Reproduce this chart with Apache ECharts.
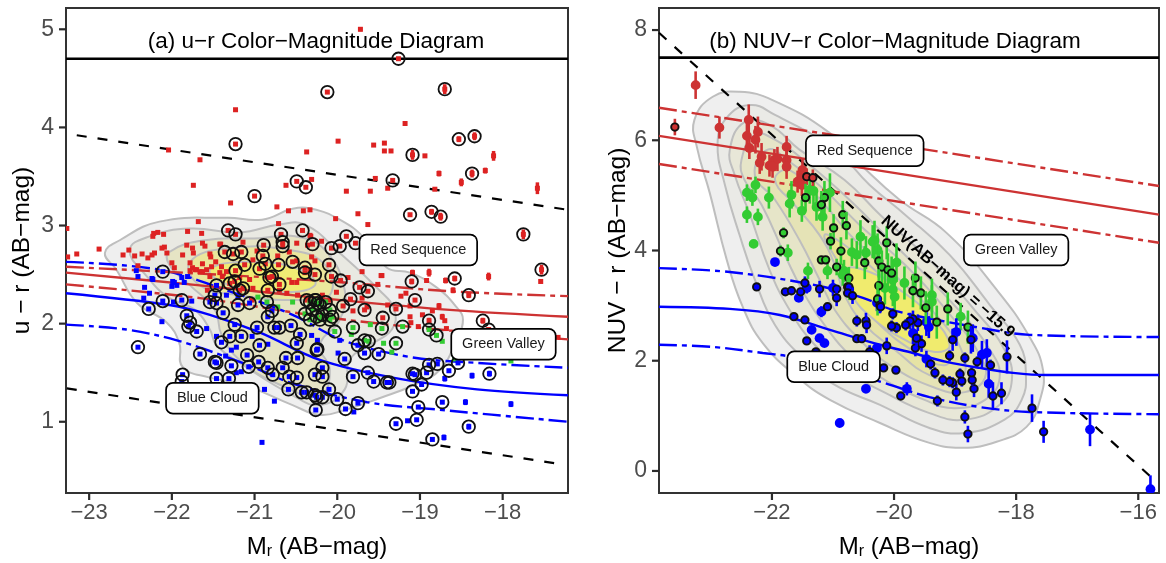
<!DOCTYPE html>
<html><head><meta charset="utf-8">
<style>html,body{margin:0;padding:0;background:#fff}#c{width:1166px;height:563px}</style>
<script src="https://cdn.jsdelivr.net/npm/echarts@6/dist/echarts.min.js"></script>
</head><body><div id="c"></div>
<script>
const aXTicks=[-23,-22,-21,-20,-19,-18], aYTicks=[1,2,3,4,5];
const bXTicks=[-22,-20,-18,-16], bYTicks=[0,2,4,6,8];

// Panel (a): [Mr, u-r, error]
const aRedPlain=[[-21.23,4.18],[-22.04,3.77],[-21.66,3.67],[-20.37,3.75],[-20.31,3.47],[-20.62,3.41],[-21.74,3.41],[-21.29,3.23],[-20.73,3.19],[-20.59,3.15],[-20.41,3.15],[-20.33,3.16],[-20.71,3.02],[-21.68,3.04],[-21.81,2.94],[-21.64,2.92],[-22.10,2.91],[-22.17,2.93],[-22.22,2.92],[-22.23,2.89],[-21.14,2.83],[-21.42,2.81],[-21.63,2.82],[-21.82,2.80],[-22.09,2.78],[-20.49,2.82],[-20.32,2.89],[-20.36,2.80],[-21.75,2.77],[-21.60,2.79],[-22.12,2.77],[-22.88,2.76],[-22.52,2.75],[-23.27,2.97],[-23.26,2.68],[-23.15,2.71],[-22.59,2.70],[-22.45,2.69],[-22.36,2.71],[-22.29,2.67],[-22.24,2.70],[-22.21,2.72],[-22.06,2.72],[-21.74,2.72],[-21.87,2.70],[-21.54,2.71],[-22.0,2.62],[-21.97,2.57],[-21.78,2.62],[-21.63,2.61],[-21.47,2.63],[-21.78,2.54],[-21.70,2.55],[-21.66,2.53],[-21.58,2.55],[-22.41,2.59],[-21.54,2.48],[-21.42,2.52],[-21.57,2.34],[-21.40,2.58],[-21.41,2.81],[-20.97,2.74],[-20.72,2.69],[-20.58,2.73],[-21.53,2.68],[-21.52,2.58],[-21.75,2.57],[-21.72,2.55],[-21.63,2.53],[-21.34,2.53],[-21.39,2.48],[-21.02,2.65],[-20.49,2.64],[-21.18,2.47],[-21.06,2.45],[-21.02,2.36],[-20.61,2.31],[-20.49,2.42],[-20.55,2.42],[-20.48,2.29],[-20.70,2.34],[-21.03,2.24],[-20.19,2.84],[-20.33,2.90],[-20.31,2.68],[-20.27,2.64],[-20.33,2.55],[-19.87,2.47],[-19.70,2.53],[-19.46,2.49],[-19.51,2.40],[-19.09,2.52,0.03],[-19.17,2.31],[-19.23,2.28],[-20.01,2.32],[-20.18,2.29],[-19.70,2.26],[-19.12,2.18],[-19.81,2.13],[-19.64,2.17],[-19.12,2.07],[-20.09,2.24],[-19.72,5.0,0.02],[-19.18,4.04],[-19.99,3.86],[-19.43,3.84],[-19.56,3.82],[-19.43,3.76],[-19.35,3.76],[-18.94,3.71],[-18.11,3.71,0.05],[-18.21,3.56,0.03],[-18.77,3.53,0.03],[-19.54,3.48],[-18.50,3.44,0.04],[-19.39,3.38],[-19.60,3.35],[-19.89,3.35],[-18.82,3.37],[-17.58,3.38,0.06],[-19.75,3.12],[-20.02,3.07],[-19.63,3.01],[-17.54,2.43,0.02],[-18.17,2.48,0.04],[-18.89,2.52,0.04],[-19.47,2.49,0.02],[-18.69,2.44,0.03],[-18.92,2.44],[-18.60,2.34,0.03],[-18.77,2.18,0.03],[-18.85,2.13],[-18.97,2.09],[-18.73,2.07,0.03],[-19.11,2.01],[-18.70,2.03],[-19.02,1.97],[-18.68,1.95],[-17.33,1.86],[-19.39,2.19]];
const aRedRing=[[-21.23,3.83],[-20.49,3.45],[-20.38,3.39],[-21.0,3.30],[-21.32,2.95],[-21.23,2.91],[-20.42,2.95],[-20.68,2.91],[-20.30,2.81],[-20.89,2.80],[-20.66,2.83],[-20.66,2.79],[-21.36,2.73],[-21.26,2.71],[-21.16,2.73],[-20.90,2.69],[-21.12,2.60],[-20.94,2.56],[-20.87,2.61],[-20.71,2.60],[-20.54,2.63],[-20.39,2.57],[-20.39,2.52],[-20.27,2.50],[-21.23,2.54],[-21.24,2.43],[-21.30,2.41],[-20.82,2.47],[-20.79,2.48],[-20.70,2.40],[-20.84,2.34],[-20.37,2.24],[-20.26,2.24],[-21.14,2.36],[-21.18,2.34],[-19.89,2.89],[-19.78,2.82],[-19.97,2.79],[-20.07,2.77],[-20.10,2.60],[-20.07,2.48],[-19.96,2.44],[-19.73,2.37],[-19.63,2.33],[-19.10,2.43,0.03],[-19.06,2.24],[-19.84,2.25],[-19.93,2.18],[-19.29,2.15],[-19.67,2.14],[-19.45,2.06],[-19.26,4.70],[-20.12,4.36],[-18.70,4.39,0.05],[-18.53,3.88,0.03],[-18.34,3.91,0.04],[-19.09,3.72,0.05],[-18.37,3.53,0.04],[-19.33,3.46],[-19.12,3.11],[-18.86,3.14,0.03],[-18.75,3.09,0.04],[-17.75,2.91,0.05],[-17.53,2.55,0.05],[-18.58,2.46,0.03],[-18.41,2.29,0.03],[-18.89,2.03,0.03],[-18.24,2.03,0.03],[-18.17,1.94]];
const aGreenPlain=[[-20.54,2.22],[-20.96,2.27],[-20.72,2.17],[-19.60,1.99],[-18.73,1.82],[-19.44,1.80],[-19.34,1.71],[-17.90,1.62],[-18.58,1.64],[-19.83,1.89]];
const aGreenRing=[[-20.85,2.22],[-20.27,2.24],[-20.33,2.22],[-20.24,2.21],[-20.30,2.14],[-20.18,2.09],[-20.25,2.07],[-20.09,2.14],[-20.06,2.07],[-20.33,2.04],[-20.21,2.04],[-20.09,2.04],[-20.03,1.92],[-19.81,1.96],[-19.46,1.95],[-19.21,1.97],[-18.89,1.94],[-18.80,1.88],[-19.29,1.80],[-19.62,1.82],[-19.67,1.83],[-20.21,2.19],[-20.14,2.22],[-20.39,2.10]];
const aBluePlain=[[-20.91,0.79],[-22.43,2.54],[-22.41,2.48],[-22.24,2.46],[-22.23,2.45],[-21.99,2.43],[-21.97,2.42],[-21.88,2.47],[-21.81,2.48],[-21.85,2.42],[-22.0,2.38],[-21.94,2.39],[-22.33,2.37],[-22.27,2.31],[-22.34,2.26],[-21.98,2.22],[-21.76,2.23],[-22.12,2.02],[-21.58,1.95],[-21.20,2.27],[-21.34,2.29],[-21.46,1.87],[-21.03,1.87],[-20.84,1.79],[-21.22,1.76],[-21.28,1.73],[-21.35,1.67],[-21.22,1.50],[-21.16,1.51],[-20.88,1.33],[-20.76,1.21],[-20.31,1.88],[-20.24,1.83],[-19.97,1.83],[-19.99,1.70],[-18.70,1.44,0.03],[-18.37,1.47,0.03],[-18.45,1.20,0.03],[-17.90,1.18,0.03],[-19.15,1.01],[-18.71,0.84,0.03],[-19.80,1.10]];
const aBlueRing=[[-22.41,1.76],[-22.28,2.15],[-22.11,2.53],[-22.11,2.23],[-21.88,2.24],[-21.82,2.08],[-21.78,2.01],[-21.80,1.97],[-21.70,1.92],[-21.66,1.69],[-21.87,1.48],[-21.88,1.41],[-21.46,2.21],[-21.54,2.22],[-21.48,2.29],[-21.46,2.39],[-21.38,2.11],[-21.20,2.19],[-21.06,2.21],[-20.84,2.07],[-21.24,1.99],[-20.97,1.96],[-21.40,1.81],[-21.30,1.87],[-21.16,1.87],[-20.94,1.78],[-21.09,1.68],[-21.48,1.61],[-21.46,1.60],[-21.28,1.57],[-21.07,1.56],[-20.95,1.61],[-20.84,1.55],[-21.46,1.44],[-21.31,1.44],[-20.59,1.33],[-20.66,1.55],[-20.78,1.48],[-20.58,1.46],[-20.49,1.45],[-20.62,1.65],[-20.48,1.65],[-20.43,1.30],[-20.37,1.30],[-20.27,1.27],[-20.26,1.12],[-20.27,1.48],[-20.45,1.89],[-20.49,1.80],[-20.25,1.73],[-20.76,1.96],[-20.70,1.96],[-20.56,1.98],[-20.24,1.74],[-19.91,1.64],[-19.75,1.78],[-19.67,1.70],[-19.50,1.69],[-19.81,1.46],[-20.18,1.55],[-20.18,1.46],[-19.63,1.50],[-19.56,1.41],[-19.37,1.40],[-19.40,1.40],[-19.06,1.48],[-19.09,1.49],[-18.92,1.50],[-18.89,1.58],[-18.79,1.59],[-18.65,1.52],[-18.54,1.60],[-18.98,1.38],[-19.09,1.31],[-18.16,1.49,0.03],[-18.73,1.20,0.02],[-19.02,1.15,0.02],[-19.04,1.02],[-19.29,0.98],[-18.41,0.95,0.03],[-18.85,0.82],[-19.75,1.19],[-19.90,1.13],[-20.0,1.23],[-20.10,1.33],[-20.25,1.25],[-20.18,1.25],[-20.79,2.13]];

// Panel (a) reference lines
const aTopLine=[[-23.28,4.7],[-17.21,4.7]];
const aDashUp=[[-23.15,3.92],[-17.21,3.16]];
const aDashLow=[[-23.27,1.34],[-17.31,0.57]];
const aRedMid=[[-23.28,2.52],[-21.66,2.39],[-20.09,2.25],[-18.64,2.14],[-17.21,2.07]];
const aRedUp=[[-23.28,2.58],[-21.66,2.51],[-20.09,2.43],[-18.64,2.33],[-17.21,2.28]];
const aRedLow=[[-23.28,2.40],[-21.66,2.26],[-20.09,2.06],[-18.64,1.93],[-17.21,1.84]];
const aBlueMid=[[-23.28,2.31],[-22.03,2.19],[-21.54,2.09],[-20.94,1.91],[-20.21,1.63],[-19.33,1.45],[-18.31,1.33],[-17.21,1.27]];
const aBlueUp=[[-23.28,2.63],[-22.15,2.55],[-21.34,2.34],[-20.54,2.09],[-19.93,1.83],[-19.12,1.66],[-18.31,1.60],[-17.21,1.55]];
const aBlueLow=[[-23.28,1.99],[-22.55,1.94],[-21.94,1.83],[-21.34,1.66],[-20.94,1.53],[-20.54,1.39],[-19.64,1.20],[-18.73,1.12],[-17.21,1.00]];

// Panel (a) density contours
const aC1=[[-22.63,2.85],[-22.15,3.04],[-21.34,3.08],[-20.91,3.06],[-20.54,3.17],[-20.31,3.17],[-19.97,3.06],[-19.67,2.87],[-19.40,2.57],[-19.12,2.52],[-18.80,2.37],[-18.56,2.17],[-18.48,2.04],[-18.56,1.83],[-18.76,1.53],[-19.06,1.38],[-19.49,1.24],[-19.91,1.12],[-20.21,1.07],[-20.54,1.17],[-21.14,1.38],[-21.54,1.45],[-21.87,1.56],[-21.91,1.80],[-22.06,2.01],[-22.42,2.21],[-22.67,2.55],[-22.81,2.72]];
const aC2=[[-22.27,2.89],[-21.78,2.97],[-21.18,2.93],[-20.70,3.01],[-20.39,3.01],[-19.97,2.72],[-19.49,2.34],[-19.31,2.14],[-19.34,1.94],[-19.61,1.78],[-19.85,1.63],[-19.91,1.33],[-20.21,1.17],[-20.54,1.27],[-21.14,1.58],[-21.46,1.78],[-21.54,1.94],[-21.72,2.14],[-22.03,2.26],[-22.30,2.48],[-22.51,2.75]];
const aC3=[[-22.03,2.73],[-21.60,2.85],[-20.94,2.87],[-20.51,2.89],[-20.15,2.75],[-19.91,2.34],[-19.97,2.04],[-20.21,1.78],[-20.09,1.53],[-20.21,1.27],[-20.70,1.38],[-21.18,1.63],[-21.40,1.89],[-21.48,2.14],[-21.78,2.39],[-22.03,2.60]];
const aC4=[[-21.78,2.63],[-21.30,2.77],[-20.58,2.75],[-20.15,2.60],[-20.09,2.29],[-20.45,2.24],[-21.18,2.29],[-21.66,2.39]];
const aC5=[[-21.54,2.55],[-21.06,2.63],[-20.45,2.55],[-20.27,2.39],[-20.70,2.32],[-21.30,2.39]];

// Panel (b): [Mr, NUV-r, error]
const bRedPlain=[[-23.25,7.0,0.25],[-22.86,6.23,0.2],[-22.38,6.37,0.28],[-22.41,6.08,0.25],[-22.23,6.15,0.28],[-22.27,6.01,0.25],[-22.37,5.86,0.2],[-22.17,5.70,0.25],[-22.20,5.59,0.2],[-22.04,5.54,0.2],[-21.96,5.64,0.2],[-21.91,5.66,0.22],[-21.99,5.52,0.2],[-21.76,5.88,0.2],[-21.76,5.64,0.22],[-21.76,5.52,0.22],[-21.58,5.25,0.2],[-21.50,5.46,0.2],[-21.51,5.34,0.2],[-21.51,5.19,0.2]];
const bRedRing=[[-23.59,6.24,0.15],[-21.43,5.34,0.15],[-21.33,5.32,0.15]];
const bGreenPlain=[[-22.27,5.19,0.15],[-22.41,5.05,0.15],[-22.32,4.96,0.15],[-22.41,4.65,0.15],[-22.23,4.61,0.15],[-22.05,4.96,0.2],[-22.30,4.12,0.02],[-21.68,5.01,0.25],[-21.71,4.85,0.25],[-21.51,4.72,0.2],[-21.38,5.10,0.25],[-21.32,5.08,0.25],[-21.27,4.79,0.25],[-21.05,5.05,0.35],[-21.17,4.61,0.25],[-21.74,3.96,0.15],[-20.55,4.25,0.3],[-20.32,4.19,0.35],[-20.69,3.97,0.25],[-20.61,3.92,0.25],[-20.46,3.96,0.3],[-21.41,3.63,0.15],[-21.09,3.63,0.15],[-20.82,3.63,0.2],[-20.27,4.01,0.3],[-19.96,3.78,0.35],[-20.35,4.16,0.3],[-19.83,3.41,0.3],[-20.02,3.29,0.3],[-20.15,3.32,0.3],[-20.02,3.47,0.3],[-19.38,3.19,0.3],[-19.38,3.07,0.3],[-18.91,2.80,0.25],[-19.99,3.16,0.3],[-20.84,3.56,0.2]];
const bGreenRing=[[-21.45,4.96,0.25],[-21.14,4.96,0.3],[-21.19,4.83,0.25],[-20.84,4.65,0.25],[-20.78,4.45,0.25],[-20.99,4.41,0.25],[-21.04,4.17,0.15],[-21.81,4.32,0.1],[-21.86,3.99,0.1],[-20.12,4.14,0.3],[-20.87,3.99,0.25],[-21.19,3.83,0.05],[-21.12,3.83,0.05],[-20.94,3.70,0.15],[-20.48,3.78,0.3],[-20.25,3.81,0.3],[-20.20,3.70,0.3],[-20.10,3.65,0.3],[-20.04,3.59,0.3],[-20.74,3.50,0.2],[-20.76,3.34,0.2],[-20.73,3.30,0.2],[-20.25,3.36,0.3],[-20.27,3.12,0.3],[-19.65,3.50,0.3],[-19.69,3.27,0.3],[-19.56,3.23,0.3],[-19.48,2.96,0.3],[-19.12,2.94,0.3],[-19.30,2.70,0.3],[-18.79,2.61,0.3]];
const bBluePlain=[[-21.95,3.79,0.02],[-21.56,3.14,0.05],[-21.43,3.32,0.1],[-21.0,3.32,0.15],[-21.19,2.89,0.1],[-20.28,3.05,0.15],[-21.35,2.56,0.05],[-21.22,2.41,0.05],[-21.14,2.32,0.05],[-20.28,2.23,0.05],[-20.46,1.49,0.02],[-20.89,0.87,0.02],[-15.80,-0.33,0.25],[-16.79,0.75,0.3],[-18.45,1.58,0.25],[-18.48,2.14,0.25],[-18.56,2.11,0.25],[-19.47,2.03,0.15],[-19.79,1.49,0.12],[-19.69,2.50,0.2],[-18.98,2.52,0.25],[-18.71,2.41,0.25],[-19.43,2.61,0.2],[-19.47,2.70,0.25]];
const bBlueRing=[[-22.25,3.34,0.05],[-21.78,3.25,0.05],[-21.68,3.27,0.05],[-21.53,3.25,0.05],[-21.46,3.41,0.12],[-21.22,3.30,0.15],[-20.94,3.30,0.05],[-20.94,3.14,0.15],[-20.74,3.34,0.05],[-20.76,3.23,0.05],[-20.68,3.18,0.15],[-21.09,2.98,0.05],[-20.23,3.01,0.15],[-21.64,2.80,0.05],[-21.46,2.74,0.05],[-21.43,2.36,0.05],[-20.61,2.72,0.1],[-20.46,2.72,0.15],[-20.45,2.65,0.15],[-20.61,2.40,0.05],[-20.53,2.40,0.05],[-20.12,2.27,0.15],[-20.40,2.16,0.12],[-21.28,2.16,0.05],[-17.55,0.71,0.2],[-17.74,1.14,0.25],[-18.24,1.41,0.2],[-18.38,1.36,0.25],[-18.69,1.49,0.15],[-18.72,1.65,0.1],[-18.73,1.78,0.1],[-18.42,1.92,0.1],[-18.15,2.07,0.3],[-18.64,1.98,0.1],[-18.84,2.05,0.1],[-18.92,1.76,0.1],[-18.89,1.63,0.1],[-18.98,1.43,0.15],[-19.04,1.60,0.1],[-19.09,1.62,0.1],[-19.20,1.65,0.1],[-19.33,1.78,0.1],[-19.40,1.94,0.1],[-19.09,2.09,0.1],[-18.84,0.98,0.12],[-18.79,0.67,0.15],[-19.29,1.27,0.1],[-19.89,1.36,0.05],[-19.97,1.83,0.05],[-20.17,1.87,0.05],[-19.65,2.23,0.15],[-19.55,2.31,0.15],[-19.63,2.41,0.15],[-19.04,2.38,0.2],[-18.74,2.38,0.25],[-19.61,2.69,0.15],[-19.69,2.76,0.15],[-19.74,2.72,0.15],[-19.81,2.65,0.1],[-19.96,2.60,0.1],[-20.04,2.63,0.1],[-20.02,2.85,0.1],[-20.22,2.98,0.1]];

// Panel (b) reference lines
const bTopLine=[[-23.85,7.5],[-15.66,7.5]];
const bDiag=[[-23.85,7.95],[-15.8,-0.1]];
const bRedMid=[[-23.85,6.08],[-15.66,4.65]];
const bRedUp=[[-23.85,6.59],[-15.66,5.17]];
const bRedLow=[[-23.85,5.57],[-15.66,4.14]];
const bBlueMid=[[-23.85,2.98],[-22.69,2.94],[-21.87,2.83],[-21.05,2.56],[-20.23,2.29],[-19.69,2.14],[-19.14,1.98],[-18.60,1.87],[-18.05,1.78],[-17.50,1.74],[-15.66,1.74]];
const bBlueUp=[[-23.85,3.68],[-22.69,3.61],[-21.33,3.38],[-20.51,3.14],[-19.96,2.90],[-18.60,2.60],[-17.78,2.47],[-15.66,2.43]];
const bBlueLow=[[-23.85,2.29],[-22.97,2.25],[-22.15,2.14],[-21.59,2.05],[-20.23,1.62],[-19.42,1.34],[-18.60,1.16],[-17.78,1.07],[-15.66,1.03]];

// Panel (b) density contours
const bC1=[[-23.27,6.37],[-22.97,6.79],[-22.53,6.88],[-21.99,6.73],[-21.05,6.13],[-20.51,5.52],[-19.91,4.92],[-19.14,4.32],[-18.32,3.29],[-17.78,2.43],[-17.56,1.83],[-17.61,1.29],[-17.83,0.80],[-18.32,0.53],[-18.87,0.42],[-19.42,0.51],[-20.23,0.87],[-21.05,1.29],[-21.59,1.71],[-22.15,2.32],[-22.48,2.98],[-22.74,3.83],[-23.02,5.05],[-23.23,5.88]];
const bC2=[[-22.89,5.95],[-22.74,6.41],[-22.36,6.64],[-21.95,6.46],[-20.97,5.83],[-20.40,5.19],[-19.82,4.65],[-19.09,3.92],[-18.43,3.01],[-17.94,2.29],[-17.84,1.74],[-17.91,1.29],[-18.19,0.93],[-18.84,0.69],[-19.42,0.78],[-20.23,1.20],[-20.97,1.56],[-21.46,2.01],[-21.95,2.65],[-22.28,3.47],[-22.53,4.28],[-22.77,5.19]];
const bC3=[[-22.69,5.83],[-22.45,6.33],[-22.04,6.28],[-21.55,5.83],[-20.81,5.28],[-20.23,4.65],[-19.42,3.83],[-18.68,2.92],[-18.19,2.20],[-18.07,1.65],[-18.27,1.20],[-18.84,0.93],[-19.42,1.05],[-20.15,1.42],[-20.81,1.83],[-21.30,2.29],[-21.71,2.92],[-22.04,3.65],[-22.36,4.65],[-22.61,5.37]];
const bC4=[[-22.50,5.64],[-22.28,6.10],[-21.95,6.01],[-21.38,5.55],[-20.73,4.92],[-20.07,4.19],[-19.09,3.10],[-18.43,2.20],[-18.27,1.69],[-18.51,1.29],[-19.01,1.14],[-19.50,1.29],[-20.15,1.65],[-20.73,2.11],[-21.14,2.65],[-21.46,3.19],[-21.79,3.92],[-22.17,4.83],[-22.45,5.28]];
const bC5=[[-22.28,5.37],[-22.07,5.83],[-21.71,5.61],[-21.14,5.10],[-20.56,4.46],[-19.82,3.74],[-19.01,2.74],[-18.60,2.11],[-18.51,1.69],[-18.84,1.43],[-19.33,1.51],[-20.07,1.92],[-20.56,2.38],[-20.97,2.92],[-21.22,3.47],[-21.55,4.19],[-21.95,4.92]];
const bC6=[[-21.95,5.28],[-21.71,5.46],[-21.14,4.83],[-20.64,4.19],[-19.91,3.47],[-19.17,2.65],[-18.84,2.01],[-18.92,1.69],[-19.42,1.74],[-19.99,2.20],[-20.48,2.65],[-20.81,3.19],[-20.97,3.74],[-21.22,4.28],[-21.63,4.83]];
const bC7=[[-21.14,4.28],[-20.81,4.10],[-20.23,3.56],[-19.50,2.83],[-19.09,2.20],[-19.17,1.92],[-19.66,2.16],[-20.23,2.65],[-20.64,3.19],[-20.92,3.79]];
const bC8=[[-20.81,3.65],[-20.40,3.61],[-19.91,3.29],[-19.42,2.83],[-19.09,2.29],[-19.33,2.16],[-19.82,2.38],[-20.32,2.74],[-20.69,3.19]];

const aBoxes=[['Red Sequence',-19.02,2.75],['Green Valley',-17.99,1.79],['Blue Cloud',-21.51,1.24]];
const bBoxes=[['Red Sequence',-20.48,5.81],['Green Valley',-18.0,4.01],['Blue Cloud',-20.99,1.89]];
const bDiagLabel=[['NUV(AB\u2212mag) = \u221215.9',-19.12,3.52]];

const RED='#CD3333', BLUE='#0000FF', GREEN='#33CC33';
const FF='"Liberation Sans",Helvetica,Arial,sans-serif';
const DASHDOT=[18,5,5,5], DASH=[10,11];
const norm=a=>a.map(p=>[p[0],p[1],p[2]||0]);

function contour(ax,pts,fill){
  return {type:'custom',xAxisIndex:ax,yAxisIndex:ax,silent:true,clip:true,z:1,
    data:norm(pts),encode:{x:0,y:1},
    renderItem:(params,api)=>{
      if(params.dataIndex!==0) return null;
      const P=pts.map(p=>api.coord(p));
      return {type:'polygon',shape:{points:P,smooth:0.45},
        style:{fill:fill,stroke:'#BEBEBE',lineWidth:2}};
    }};
}
function line(ax,d,color,w,dash,smooth){
  return {type:'line',xAxisIndex:ax,yAxisIndex:ax,data:d,showSymbol:false,silent:true,z:3,
    smooth:smooth?0.35:false,lineStyle:{color:color,width:w,type:dash||'solid'},clip:true};
}
function marks(ax,pts,color,kind,ring){
  return {type:'custom',xAxisIndex:ax,yAxisIndex:ax,silent:true,clip:true,z:4,
    data:norm(pts),encode:{x:0,y:1},
    renderItem:(params,api)=>{
      const x=api.value(0),y=api.value(1),e=api.value(2);
      const c=api.coord([x,y]),t=api.coord([x,y+e]),b=api.coord([x,y-e]);
      const kids=[];
      if(e>0) kids.push({type:'line',shape:{x1:c[0],y1:t[1],x2:c[0],y2:b[1]},
        style:{stroke:color,lineWidth:kind==='sq'?3.5:2.6}});
      if(kind==='sq') kids.push({type:'rect',shape:{x:c[0]-2.5,y:c[1]-2.5,width:5,height:5},style:{fill:color}});
      else if(ring) kids.push({type:'circle',shape:{cx:c[0],cy:c[1],r:3.7},style:{fill:color,stroke:'#111',lineWidth:1.9}});
      else kids.push({type:'circle',shape:{cx:c[0],cy:c[1],r:4.9},style:{fill:color}});
      return {type:'group',children:kids};
    }};
}
function rings(ax,pts){
  return {type:'scatter',xAxisIndex:ax,yAxisIndex:ax,data:pts.map(p=>[p[0],p[1]]),silent:true,z:5,
    symbol:'circle',symbolSize:12.5,itemStyle:{color:'rgba(0,0,0,0)',borderColor:'#111',borderWidth:1.8,opacity:1}};
}
function boxes(ax,list){
  return {type:'scatter',xAxisIndex:ax,yAxisIndex:ax,silent:true,z:8,symbolSize:1,
    itemStyle:{color:'rgba(0,0,0,0)',opacity:1},
    data:list.map(r=>({name:r[0],value:[r[1],r[2]]})),
    label:{show:true,position:'inside',formatter:'{b}',fontFamily:FF,fontSize:14.5,color:'#1a1a1a',opacity:1,
      backgroundColor:'#fff',borderColor:'#000',borderWidth:1.7,borderRadius:6,padding:[7,10,7,10]}};
}
// tick marks placed through the axis scales, along the panel edge, on their own canvas layer
function tickMarks(ax,dim,ticks,edge){
  return {type:'custom',xAxisIndex:ax,yAxisIndex:ax,clip:false,z:20,zlevel:1,
    data:ticks.map(t=>dim==='x'?[t,edge]:[edge,t]),encode:{x:0,y:1},
    renderItem:(params,api)=>{
      const c=api.coord([api.value(0),api.value(1)]);
      const s=dim==='x'?{x1:c[0],y1:c[1],x2:c[0],y2:c[1]+7}:{x1:c[0],y1:c[1],x2:c[0]-7,y2:c[1]};
      return {type:'line',shape:s,style:{stroke:'#2b2b2b',lineWidth:2.2}};
    }};
}
const yLabel=(v)=>String(v).replace('-','\u2212');
const AXL={show:false,onZero:false};
function xAxis(i,min,max,ticks){
  return {type:'value',gridIndex:i,min,max,
    name:'{a|M}{s|r}{a| (AB\u2212mag)}',nameLocation:'middle',nameGap:42,
    nameTextStyle:{rich:{a:{fontFamily:FF,fontSize:24,color:'#000'},s:{fontFamily:FF,fontSize:16,color:'#000',verticalAlign:'bottom',padding:[9,0,0,0]}}},
    axisLine:AXL,splitLine:{show:false},axisTick:{show:false},
    axisLabel:{show:true,customValues:ticks,margin:9,fontFamily:FF,fontSize:22,color:'#4D4D4D',formatter:yLabel,hideOverlap:false}};
}
function yAxis(i,min,max,ticks,name,gap){
  return {type:'value',gridIndex:i,min,max,name,nameLocation:'middle',nameGap:gap,
    nameTextStyle:{fontFamily:FF,fontSize:24.5,color:'#000'},
    axisLine:AXL,splitLine:{show:false},axisTick:{show:false},
    axisLabel:{show:true,customValues:ticks,margin:12,fontFamily:FF,fontSize:23,color:'#4D4D4D',formatter:yLabel,hideOverlap:false}};
}

const A_XR=[-23.28,-17.21], A_YR=[0.274,5.217], B_XR=[-23.85,-15.66], B_YR=[-0.4,8.4];
const series=[
  contour(0,aC1,'#EFEFEF'),contour(0,aC2,'#E9E9E2'),contour(0,aC3,'#E6E4C4'),contour(0,aC4,'#EBE79C'),contour(0,aC5,'#F0EC74'),
  line(0,aTopLine,'#000',2.6),line(0,aDashUp,'#000',2.2,DASH),line(0,aDashLow,'#000',2.2,DASH),
  line(0,aBlueMid,BLUE,2.4,null,true),line(0,aBlueUp,BLUE,2.4,DASHDOT,true),line(0,aBlueLow,BLUE,2.4,DASHDOT,true),
  line(0,aRedMid,RED,2.4,null,true),line(0,aRedUp,RED,2.4,DASHDOT,true),line(0,aRedLow,RED,2.4,DASHDOT,true),
  marks(0,aRedPlain,'#DD2222','sq'),marks(0,aRedRing,'#DD2222','sq'),
  marks(0,aGreenPlain,GREEN,'sq'),marks(0,aGreenRing,GREEN,'sq'),
  marks(0,aBluePlain,BLUE,'sq'),marks(0,aBlueRing,BLUE,'sq'),
  rings(0,aRedRing.concat(aGreenRing,aBlueRing)),boxes(0,aBoxes),
  tickMarks(0,'x',aXTicks,A_YR[0]),tickMarks(0,'y',aYTicks,A_XR[0]),

  contour(1,bC1,'#EFEFEF'),contour(1,bC2,'#EAEAE6'),contour(1,bC3,'#E8E7D8'),contour(1,bC4,'#E6E5C8'),contour(1,bC5,'#E5E3B6'),contour(1,bC6,'#E6E3A4'),contour(1,bC7,'#EAE690'),contour(1,bC8,'#F0EB6E'),
  line(1,bTopLine,'#000',2.6),line(1,bDiag,'#000',2.2,DASH),
  line(1,bBlueMid,BLUE,2.4,null,true),line(1,bBlueUp,BLUE,2.4,DASHDOT,true),line(1,bBlueLow,BLUE,2.4,DASHDOT,true),
  line(1,bRedMid,RED,2.4),line(1,bRedUp,RED,2.4,DASHDOT),line(1,bRedLow,RED,2.4,DASHDOT),
  marks(1,bRedPlain,RED,'c'),marks(1,bGreenPlain,GREEN,'c'),marks(1,bBluePlain,BLUE,'c'),
  marks(1,bRedRing,RED,'c',true),marks(1,bGreenRing,GREEN,'c',true),marks(1,bBlueRing,BLUE,'c',true),
  boxes(1,bBoxes),
  tickMarks(1,'x',bXTicks,B_YR[0]),tickMarks(1,'y',bYTicks,B_XR[0]),
  {type:'scatter',xAxisIndex:1,yAxisIndex:1,silent:true,z:9,symbolSize:1,itemStyle:{color:'rgba(0,0,0,0)',opacity:1},
    data:bDiagLabel.map(r=>({name:r[0],value:[r[1],r[2]]})),
    label:{show:true,position:'inside',formatter:'{b}',rotate:-42,fontFamily:FF,fontSize:16.5,fontWeight:'bold',color:'#000',opacity:1}}
];

const chart=echarts.init(document.getElementById('c'),null,{renderer:'canvas',width:1166,height:563});
chart.setOption({
  animation:false,
  title:[
    {text:'(a) u\u2212r Color\u2212Magnitude Diagram',left:311,top:25,textAlign:'center',textStyle:{fontFamily:FF,fontSize:22.5,fontWeight:'normal',color:'#000'}},
    {text:'(b) NUV\u2212r Color\u2212Magnitude Diagram',left:890,top:25,textAlign:'center',textStyle:{fontFamily:FF,fontSize:22.5,fontWeight:'normal',color:'#000'}}
  ],
  grid:[
    {left:66,top:8,width:502,height:485,show:true,borderColor:'#333',borderWidth:2,backgroundColor:'#fff',outerBoundsMode:'none'},
    {left:659,top:8,width:500,height:485,show:true,borderColor:'#333',borderWidth:2,backgroundColor:'#fff',outerBoundsMode:'none'}
  ],
  xAxis:[xAxis(0,A_XR[0],A_XR[1],aXTicks),xAxis(1,B_XR[0],B_XR[1],bXTicks)],
  yAxis:[yAxis(0,A_YR[0],A_YR[1],aYTicks,'u \u2212 r (AB\u2212mag)',31),yAxis(1,B_YR[0],B_YR[1],bYTicks,'NUV \u2212 r (AB\u2212mag)',28)],
  series
});
</script></body></html>
